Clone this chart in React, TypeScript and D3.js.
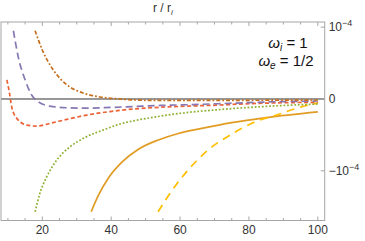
import { useEffect, useRef } from "react";
import * as d3 from "d3";

// values in units of 1e-4
const brownX = [17.9, 20.2, 23.1, 27.2, 31.8, 36.7, 42.6, 50, 60, 80, 100];
const brownY = [0.95, 0.66, 0.41, 0.195, 0.084, 0.028, 0.0, -0.018, -0.02, -0.018, -0.014];

const purpleX = [11.6, 13.0, 15.0, 16.9, 18.8, 22.2, 27.1, 32.9, 39.7, 46.4, 54.2, 62, 71, 80, 90, 100];
const purpleY = [0.95, 0.587, 0.266, 0.056, -0.038, -0.1, -0.122, -0.127, -0.118, -0.105, -0.09, -0.08, -0.066, -0.05, -0.036, -0.028];

const redX = [9.7, 10.4, 11.1, 12.6, 15.5, 18.4, 22.2, 27.1, 32.9, 39.7, 46.4, 54.2, 62, 71, 80, 100];
const redY = [0.266, 0.1, -0.108, -0.27, -0.364, -0.378, -0.34, -0.284, -0.224, -0.175, -0.14, -0.115, -0.1, -0.085, -0.065, -0.046];

const greenX = [17.9, 19.3, 21.3, 24.2, 28.1, 32.7, 37.9, 42.6, 47.8, 51.3, 60.9, 70.8, 86.2, 100];
const greenY = [-1.57, -1.313, -1.082, -0.85, -0.664, -0.529, -0.428, -0.348, -0.292, -0.262, -0.195, -0.15, -0.1, -0.07];

const orangeX = [34.2, 36.3, 39.2, 43.1, 47.9, 53.7, 59.5, 66.3, 75, 85, 100];
const orangeY = [-1.57, -1.34, -1.1, -0.88, -0.7, -0.57, -0.48, -0.41, -0.33, -0.26, -0.18];

const yellowX = [53.6, 58.6, 63.2, 68.5, 74.6, 81.0, 88.0, 95.2, 100];
const yellowY = [-1.57, -1.21, -0.943, -0.696, -0.501, -0.334, -0.223, -0.11, -0.055];

const xTicks = [20, 40, 60, 80, 100];
const xMinor = d3.range(10, 101, 5);
const yTicks = [1, 0, -1];

const series = [
  { xs: orangeX, ys: orangeY, color: "#e19c24", dash: null },
  { xs: yellowX, ys: yellowY, color: "#ffbf00", dash: "8,6" },
  { xs: greenX, ys: greenY, color: "#8fb032", dash: "1.8,1.8" },
  { xs: redX, ys: redY, color: "#eb6235", dash: "4,2.5" },
  { xs: purpleX, ys: purpleY, color: "#8778b3", dash: "7,4" },
  { xs: brownX, ys: brownY, color: "#c56e1a", dash: "4,2,1.8,2" },
];

export default function App() {
  const ref = useRef<SVGSVGElement | null>(null);

  useEffect(() => {
    const left = 1, right = 324.7, top = 22, bottom = 220.5;
    const svg = d3.select(ref.current);
    svg.selectAll("*").remove();

    const x = d3.scaleLinear().domain([8, 102]).range([left, right]);
    const y = d3.scaleLinear().domain([-1.692, 1.072]).range([bottom, top]);
    const font = "'Liberation Sans', Arial, sans-serif";

    // zero line
    svg.append("line")
      .attr("x1", left).attr("x2", right)
      .attr("y1", y(0)).attr("y2", y(0))
      .attr("stroke", "#333").attr("stroke-width", 1);

    const line = d3.line<[number, number]>()
      .x(d => x(d[0]))
      .y(d => y(d[1]))
      .curve(d3.curveMonotoneX);

    series.forEach(s => {
      const pts = s.xs.map((v, i) => [v, s.ys[i]] as [number, number]);
      svg.append("path")
        .attr("d", line(pts))
        .attr("fill", "none")
        .attr("stroke", s.color)
        .attr("stroke-width", 1.7)
        .attr("stroke-dasharray", s.dash);
    });

    // frame
    svg.append("rect")
      .attr("x", left).attr("y", top)
      .attr("width", right - left).attr("height", bottom - top)
      .attr("fill", "none").attr("stroke", "#a6a6a6").attr("stroke-width", 1);

    xMinor.forEach(t => {
      const len = t % 20 === 0 ? 4 : 2.5;
      svg.append("line").attr("x1", x(t)).attr("x2", x(t))
        .attr("y1", bottom).attr("y2", bottom - len).attr("stroke", "#a6a6a6");
      svg.append("line").attr("x1", x(t)).attr("x2", x(t))
        .attr("y1", top).attr("y2", top + len).attr("stroke", "#a6a6a6");
    });

    yTicks.forEach(t => {
      svg.append("line").attr("x1", right).attr("x2", right - 4)
        .attr("y1", y(t)).attr("y2", y(t)).attr("stroke", "#a6a6a6");
      const label = svg.append("text")
        .attr("x", right + 4).attr("y", y(t) + 4)
        .attr("font-family", font).attr("font-size", 12).attr("fill", "#333");
      if (t === 0) {
        label.text("0");
      } else {
        label.append("tspan").text(t < 0 ? "\u221210" : "10");
        label.append("tspan").attr("dy", -5).attr("font-size", 9).text("\u22124");
      }
    });

    xTicks.forEach(t => {
      svg.append("text")
        .attr("x", x(t)).attr("y", bottom + 13)
        .attr("text-anchor", "middle")
        .attr("font-family", font).attr("font-size", 12).attr("fill", "#333")
        .text(t);
    });

    // top label
    const lab = svg.append("text")
      .attr("x", (left + right) / 2).attr("y", 12)
      .attr("text-anchor", "middle")
      .attr("font-family", font).attr("font-size", 12).attr("fill", "#333");
    lab.append("tspan").text("r / r");
    lab.append("tspan").attr("dy", 2.5).attr("font-size", 8).attr("font-style", "italic").text("i");

    // omega annotations
    const w1 = svg.append("text")
      .attr("x", 288).attr("y", 48).attr("text-anchor", "middle")
      .attr("font-family", font).attr("font-size", 15).attr("fill", "#111");
    w1.append("tspan").attr("font-style", "italic").text("\u03c9");
    w1.append("tspan").attr("dy", 3).attr("font-size", 10).attr("font-style", "italic").text("i");
    w1.append("tspan").attr("dy", -3).text(" = 1");

    const w2 = svg.append("text")
      .attr("x", 286).attr("y", 66).attr("text-anchor", "middle")
      .attr("font-family", font).attr("font-size", 15).attr("fill", "#111");
    w2.append("tspan").attr("font-style", "italic").text("\u03c9");
    w2.append("tspan").attr("dy", 3).attr("font-size", 10).attr("font-style", "italic").text("e");
    w2.append("tspan").attr("dy", -3).text(" = 1/2");
  }, []);

  return (
    <svg ref={ref} width={365} height={241}
      style={{ position: "absolute", left: 0, top: 0, background: "#fff" }} />
  );
}
